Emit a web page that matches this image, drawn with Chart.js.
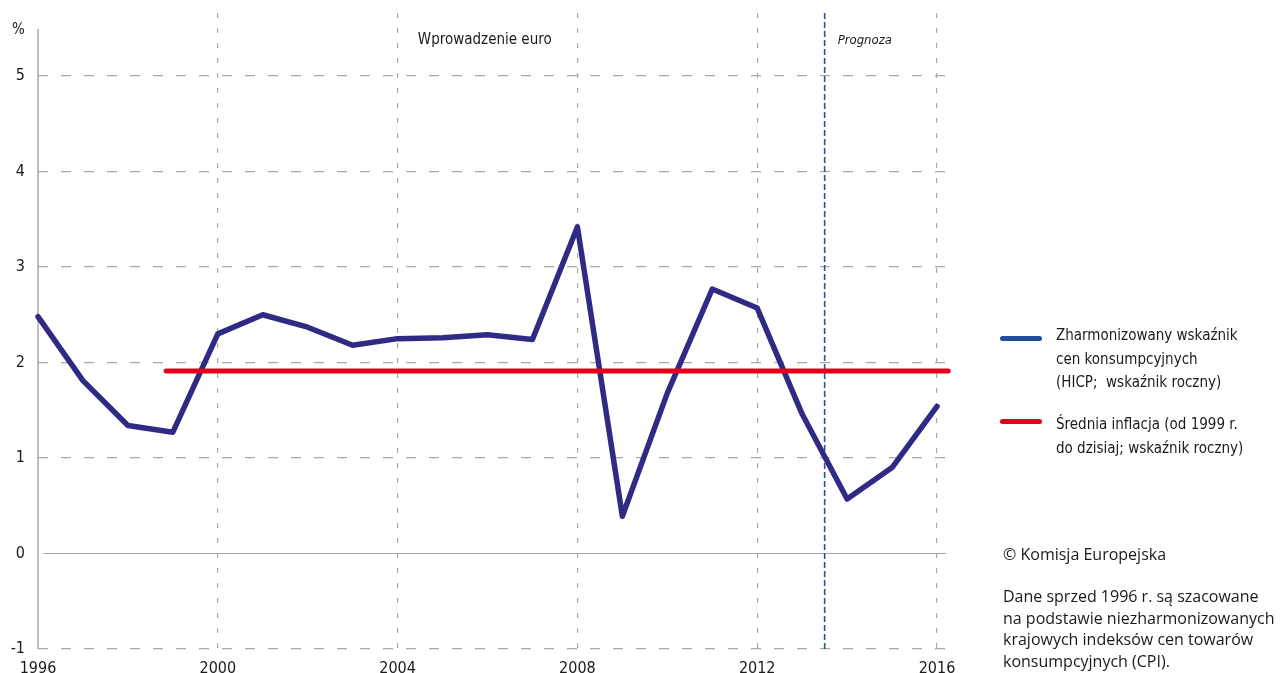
<!DOCTYPE html>
<html lang="pl">
<head>
<meta charset="utf-8">
<title>HICP</title>
<script src="https://cdn.jsdelivr.net/npm/chart.js@4.4.1/dist/chart.umd.min.js"></script>
<style>
  html, body { margin: 0; padding: 0; background: #fff; overflow: hidden; }
  #wrap { position: absolute; left: 0; top: 0; width: 1282px; height: 690px; }
  .cond { font-family: "DejaVu Sans Condensed", "DejaVu Sans", sans-serif; font-stretch: condensed; color: #1a1a1a; }
  .leg { position: absolute; left: 1056px; font-size: 15px; line-height: 23.5px; white-space: nowrap; }
  .kreska { position: absolute; left: 1000px; width: 42px; height: 5px; border-radius: 3px; }
  .note { position: absolute; left: 1003px; font-family: "Open Sans", sans-serif; font-size: 16px; line-height: 21.7px; color: #1a1a1a; white-space: nowrap; }
</style>
</head>
<body>
<div id="wrap"><canvas id="wykres"></canvas></div>

<div class="kreska" style="top:336px; background:#1f4e9c;"></div>
<div class="leg cond" style="top:324px;">Zharmonizowany wskaźnik<br>cen konsumpcyjnych<br>(HICP;&nbsp; wskaźnik roczny)</div>
<div class="kreska" style="top:419px; background:#e2001a;"></div>
<div class="leg cond" style="top:413px;">Średnia inflacja (od 1999 r.<br>do dzisiaj; wskaźnik roczny)</div>

<div class="note" style="top:544px;">© Komisja Europejska</div>
<div class="note" style="top:586px;">Dane sprzed 1996 r. są szacowane<br>na podstawie niezharmonizowanych<br>krajowych indeksów cen towarów<br>konsumpcyjnych (CPI).</div>

<script>
// dane
const lata = [1996, 1997, 1998, 1999, 2000, 2001, 2002, 2003, 2004, 2005, 2006,
              2007, 2008, 2009, 2010, 2011, 2012, 2013, 2014, 2015, 2016];
const hicp = [2.48, 1.81, 1.34, 1.27, 2.30, 2.50, 2.37, 2.18, 2.25, 2.26, 2.29,
              2.24, 3.42, 0.39, 1.68, 2.77, 2.57, 1.46, 0.57, 0.90, 1.54];
const sredniaLata = [1998.85, 2016.25];
const sredniaWart = [1.91, 1.91];
const ticksX = [1996, 2000, 2004, 2008, 2012, 2016];
const ticksY = [-1, 0, 1, 2, 3, 4, 5];
const prognozaRok = 2013.5;
const euroRok = 2004.45;

const fontCond = '"DejaVu Sans Condensed", "DejaVu Sans", sans-serif';
const szary = '#a9a9a9';

const dodatki = {
    id: 'dodatki',
    beforeDatasetsDraw(chart) {
        const c = chart.ctx, a = chart.chartArea;
        const x = chart.scales.x, y = chart.scales.y;
        c.save();
        // os Y - ciagla linia
        c.strokeStyle = szary;
        c.lineWidth = 1.5;
        c.beginPath();
        c.moveTo(a.left, 29);
        c.lineTo(a.left, a.bottom);
        c.stroke();
        // linia zera
        c.lineWidth = 1.2;
        c.beginPath();
        c.moveTo(a.left + 5, y.getPixelForValue(0));
        c.lineTo(a.right, y.getPixelForValue(0));
        c.stroke();
        // prognoza
        const px = x.getPixelForValue(prognozaRok);
        c.strokeStyle = '#2c4f9e';
        c.lineWidth = 1.6;
        c.setLineDash([6, 3]);
        c.beginPath();
        c.moveTo(px, a.top);
        c.lineTo(px, a.bottom);
        c.stroke();
        c.restore();
    },
    afterDraw(chart) {
        const c = chart.ctx;
        const x = chart.scales.x;
        c.save();
        c.fillStyle = '#1a1a1a';
        c.textBaseline = 'middle';
        c.font = '15px ' + fontCond;
        c.fillText('%', 12, 30);
        c.fillText('Wprowadzenie euro', x.getPixelForValue(euroRok), 40);
        c.font = 'italic 13px ' + fontCond;
        c.fillText('Prognoza', x.getPixelForValue(prognozaRok) + 13, 41);
        c.restore();
    }
};

new Chart(document.getElementById('wykres'), {
    type: 'line',
    data: {
        datasets: [{
            label: 'Średnia inflacja',
            data: sredniaLata.map((r, i) => ({ x: r, y: sredniaWart[i] })),
            borderColor: '#e2001a',
            borderWidth: 5,
            borderCapStyle: 'round',
            pointRadius: 0,
            clip: false
        }, {
            label: 'HICP',
            data: lata.map((r, i) => ({ x: r, y: hicp[i] })),
            borderColor: '#312a85',
            borderWidth: 5.5,
            borderJoinStyle: 'round',
            borderCapStyle: 'round',
            pointRadius: 0,
            tension: 0,
            clip: false
        }]
    },
    options: {
        responsive: true,
        maintainAspectRatio: false,
        animation: false,
        layout: {
            padding: { top: 13, right: 336, left: 0, bottom: 0 }
        },
        plugins: {
            legend: { display: false },
            tooltip: { enabled: false }
        },
        scales: {
            x: {
                type: 'linear',
                min: 1996,
                max: 2016.2,
                afterBuildTicks: s => { s.ticks = ticksX.map(v => ({ value: v })); },
                afterFit: s => { s.height = 41; },
                grid: {
                    color: ctx => ctx.tick && ctx.tick.value === 1996 ? 'transparent' : szary,
                    lineWidth: 1.2,
                    drawTicks: false
                },
                border: { display: false, dash: [5, 10] },
                ticks: {
                    padding: 10,
                    color: '#1a1a1a',
                    font: { family: fontCond, size: 16 },
                    maxRotation: 0,
                    callback: v => String(v)
                }
            },
            y: {
                min: -1,
                max: 5.66,
                afterBuildTicks: s => { s.ticks = ticksY.map(v => ({ value: v })); },
                afterFit: s => { s.width = 38; s.paddingTop = 0; s.paddingBottom = 0; },
                grid: {
                    color: ctx => ctx.tick && ctx.tick.value === 0 ? 'transparent' : szary,
                    lineWidth: 1.2,
                    drawTicks: false
                },
                border: { display: false, dash: [10, 13] },
                ticks: {
                    padding: 13,
                    color: '#1a1a1a',
                    font: { family: fontCond, size: 16 }
                }
            }
        }
    },
    plugins: [dodatki]
});
</script>
</body>
</html>
